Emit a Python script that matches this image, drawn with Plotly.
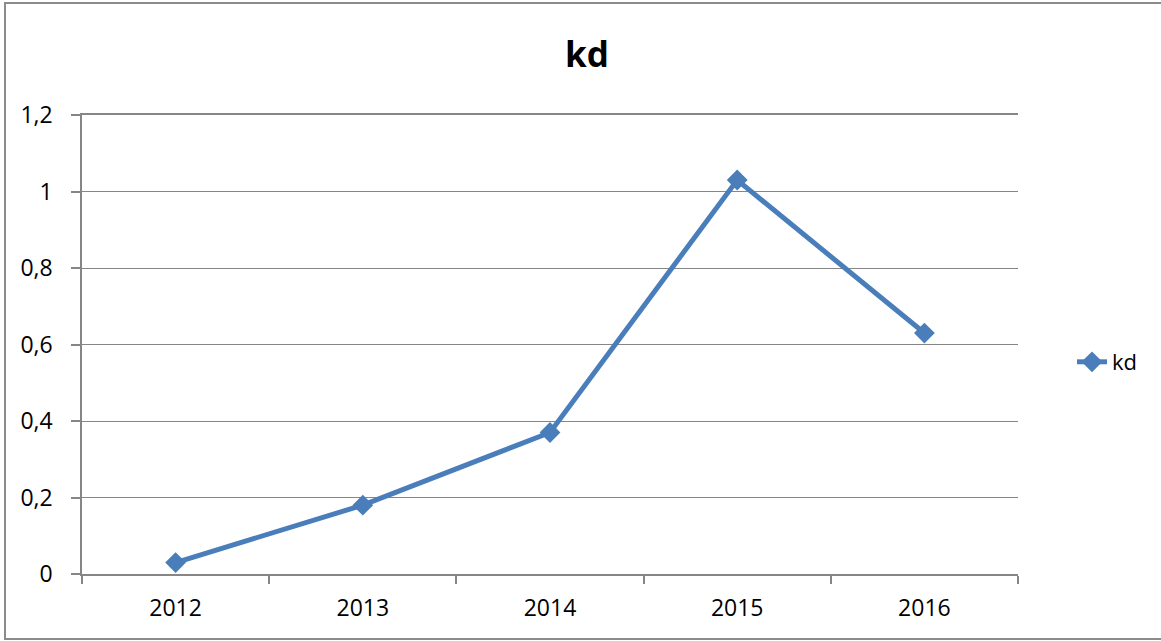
import plotly.graph_objects as go

years = ["2012", "2013", "2014", "2015", "2016"]
kd = [0.03, 0.18, 0.37, 1.03, 0.63]
y_ticks = [0, 0.2, 0.4, 0.6, 0.8, 1.0, 1.2]
y_labels = ["0", "0,2", "0,4", "0,6", "0,8", "1", "1,2"]

W, H = 1161, 641
L, R, T, B = 82, 1018, 115, 574
pw, ph = R - L, B - T

def px(x):
    return (x - L) / pw

def py(y):
    return (B - y) / ph

grid = "#868686"
blue = "#4A7EBB"

fig = go.Figure()
fig.add_trace(go.Scatter(
    x=years, y=kd, name="kd", mode="lines+markers",
    line=dict(color=blue, width=5),
    marker=dict(symbol="diamond", size=16, color=blue),
))

fig.update_layout(
    width=W, height=H,
    margin=dict(l=L, r=W - R, t=T, b=H - B),
    paper_bgcolor="white", plot_bgcolor="white",
    font=dict(family="Open Sans, Liberation Sans, sans-serif", size=23, color="black"),
    title=dict(text="<b>kd</b>", xref="container", x=587 / W, xanchor="center",
               yref="container", y=1 - 55 / H, yanchor="middle",
               font=dict(size=35, family="Open Sans, sans-serif")),
    showlegend=True,
    legend=dict(x=px(1072), xanchor="left", y=py(362), yanchor="middle",
                bgcolor="rgba(0,0,0,0)", font=dict(size=22)),
    separators=",.",
)
fig.update_xaxes(
    type="category", range=[-0.5, 4.5],
    showline=True, linecolor=grid, linewidth=1.5, mirror=True,
    ticks="outside", tickson="boundaries", ticklen=8, tickcolor=grid, tickwidth=1.5,
    showgrid=False, tickfont=dict(size=23), ticklabelstandoff=13,
)
fig.update_yaxes(
    range=[0, 1.2], tickvals=y_ticks, ticktext=y_labels,
    showline=True, linecolor=grid, linewidth=1.5,
    ticks="outside", ticklen=9, tickcolor=grid, tickwidth=1.5,
    showgrid=True, gridcolor=grid, gridwidth=1.2,
    zeroline=False, tickfont=dict(size=23), ticklabelstandoff=14,
)
fig.add_shape(type="rect", xref="paper", yref="paper",
              x0=px(5), x1=px(1170), y0=py(639), y1=py(3),
              line=dict(color="#8C8C8C", width=2), layer="above")

fig.write_html("out.html", config={"displayModeBar": False},
               post_script="document.body.style.margin='0';")
